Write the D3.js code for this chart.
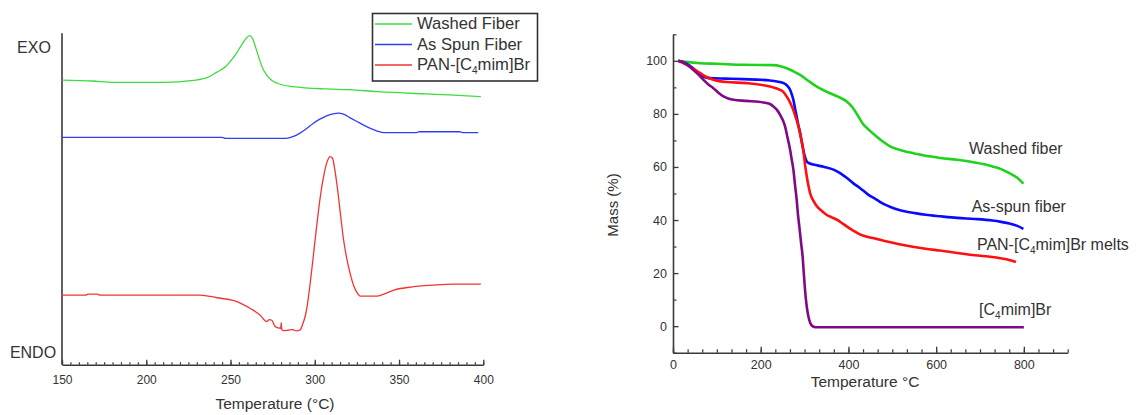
<!DOCTYPE html>
<html><head><meta charset="utf-8">
<script src="https://cdn.jsdelivr.net/npm/d3@7"></script>
<style>
html,body{margin:0;padding:0;background:#fff;}
svg{display:block;font-family:"Liberation Sans",Arial,sans-serif;}
</style></head>
<body><svg id="chart" width="1138" height="415"></svg>
<script>
// ---------- DSC (left) ----------
const dscXTicks = [150, 200, 250, 300, 350, 400];
const dscLegend = ["Washed Fiber", "As Spun Fiber", "PAN-[C4mim]Br"];
// [temperature °C, heat flow (arbitrary units, 0..100 = axis bottom..top)]
const dscWashed = [[150,85.9],[168,85.6],[180,85.2],[210,85.2],[228,85.8],[236,86.6],[242,88.3],[247,89.9],[250,91.6],[253,93.6],[256,96.0],[259,98.3],[261.3,99.3],[263,98.5],[265,95.6],[267.5,91.6],[269.5,89.0],[271.5,87.4],[274,86.0],[277.5,85.0],[287,83.9],[307,83.2],[320,83.0],[337,82.4],[366,81.7],[380,81.4],[398.5,80.9]];
const dscSpun = [[150,68.6],[200,68.6],[245,68.6],[247,68.3],[283,68.3],[287,68.8],[291,69.8],[295,71.2],[299,72.8],[303,74.1],[307,75.1],[311,75.7],[314,75.9],[317,75.6],[321,74.5],[325,73.4],[329,72.3],[333,71.3],[337,70.5],[341,70.0],[360,70.0],[362,70.3],[386,70.3],[388,70.0],[397,70.0]];
const dscPAN = [[150,21.0],[164,21.0],[165.5,21.3],[171,21.3],[172.5,21.0],[232,21.0],[242,20.2],[252,19.3],[257,18.3],[262,16.9],[267.5,15.0],[271.5,13.0],[273,13.6],[274.5,13.4],[276.5,11.5],[279.8,11.0],[280.1,12.7],[280.4,10.6],[281.5,10.3],[284,10.4],[287,10.6],[289,10.2],[291.3,10.5],[293,12.5],[294.5,15.0],[296,19.5],[297.5,25.5],[299.5,34.5],[301.5,43.5],[303.5,51.5],[305.5,57.5],[307.5,61.5],[309,62.8],[310.5,62.3],[312,58.5],[313.5,53.0],[315,46.5],[317,38.0],[319,32.0],[321,27.5],[323,24.0],[325,21.8],[327,20.7],[337,20.7],[342,21.5],[347,22.5],[358,23.5],[370,24.0],[382,24.3],[398.5,24.3]];

// ---------- TGA (right) ----------
const tgaXTicks = [0, 200, 400, 600, 800];
const tgaYTicks = [0, 20, 40, 60, 80, 100];
const tgaWashed = [[12,100],[30,99.6],[62,99.1],[100,98.9],[160,98.5],[229,98.4],[245,98.0],[259,97.2],[275,96.0],[290,94.7],[310,92.3],[328,90.3],[345,88.8],[366,87.2],[385,85.8],[396,84.7],[410,82.3],[420,79.8],[432,76.5],[448,73.8],[464,71.5],[480,69.4],[496,67.7],[512,66.7],[528,65.9],[550,65.1],[576,64.2],[610,63.4],[648,62.7],[688,61.7],[710,61.0],[728,60.2],[748,59.2],[767,57.7],[785,55.9],[799,53.7]];
const tgaSpun = [[12,100],[30,99.0],[46,97.2],[58,95.4],[69,94.1],[84,93.5],[120,93.3],[160,93.1],[221,92.6],[240,92.1],[252,91.6],[260,90.7],[267,89.1],[271,87.3],[274.5,85.3],[278,82.3],[282,79.0],[286,75.6],[290,72.8],[294,69.0],[297,66.5],[301,63.8],[305,62.1],[312,61.3],[320,60.9],[345,60.0],[366,59.0],[382,57.6],[396,55.9],[410,54.0],[426,52.1],[445,49.6],[464,47.7],[480,46.1],[496,44.9],[512,44.0],[528,43.3],[552,42.6],[576,42.0],[610,41.4],[648,40.8],[688,40.4],[728,39.8],[748,39.3],[767,38.7],[785,37.8],[799,36.7]];
const tgaPAN = [[12,100],[30,98.6],[46,97.0],[62,95.4],[75,94.0],[92,92.9],[122,92.0],[168,91.6],[221,90.3],[244,89.1],[252,88.2],[259,86.6],[267,84.3],[274,81.6],[280,78.6],[286,75.3],[292,70.8],[297,66.5],[301,61.0],[305,56.5],[309,52.8],[312.5,50.2],[320,47.3],[328,45.2],[340,43.3],[350,42.0],[362,41.0],[373,40.2],[385,38.9],[396,37.6],[410,36.1],[426,34.6],[445,33.6],[464,32.9],[480,32.2],[496,31.6],[528,30.5],[576,29.2],[608,28.5],[648,27.6],[688,26.7],[728,26.1],[760,25.2],[782,24.2]];
const tgaIL = [[12,100],[30,98.8],[46,96.6],[58,94.8],[69,92.9],[80,91.2],[92,89.7],[103,88.1],[115,86.6],[126,85.8],[138,85.3],[168,84.9],[206,84.3],[220,83.8],[229,82.8],[237,81.5],[244,79.7],[250,77.8],[255.5,75.3],[261,71.2],[267,66.5],[271,62.5],[274.5,59.0],[278,53.5],[282,47.7],[285,42.0],[288,37.6],[292,31.5],[295.5,26.3],[298,20.5],[301,13.8],[304.5,8.0],[308.5,3.8],[313,1.2],[318,0.0],[325,-0.4],[400,-0.4],[600,-0.4],[800,-0.4]];
// label anchor points [temperature, mass]
const tgaLabelPos = [[675,66.9],[681,45.2],[693,30.7],[698,6.3]];

const svg = d3.select("#chart");
const txt = "#333";
const axisCol = "#3a3a3a";

// ================= LEFT: DSC =================
const xL = d3.scaleLinear().domain([150, 400]).range([62, 483.3]);
const yL = d3.scaleLinear().domain([0, 100]).range([364.7, 33.3]);
const gL = svg.append("g");

gL.append("g").attr("transform", `translate(0,${yL(0)})`)
  .call(d3.axisBottom(xL).tickValues(d3.range(150, 401, 5)).tickSize(-2.5).tickFormat(""))
  .call(g => g.select(".domain").remove())
  .call(g => g.selectAll("line").attr("stroke", axisCol).attr("stroke-width", 1.2));
gL.append("g").attr("transform", `translate(0,${yL(0)})`)
  .call(d3.axisBottom(xL).tickValues(dscXTicks).tickSize(-5).tickSizeOuter(0).tickPadding(11))
  .call(g => g.select(".domain").attr("stroke", axisCol).attr("stroke-width", 1.6))
  .call(g => g.selectAll("line").attr("stroke", axisCol).attr("stroke-width", 1.3))
  .call(g => g.selectAll("text").attr("fill", txt).attr("font-size", 12).attr("font-family", '"Liberation Sans",Arial,sans-serif'));
gL.append("line").attr("x1", xL(150)).attr("x2", xL(150)).attr("y1", yL(0)).attr("y2", yL(100))
  .attr("stroke", axisCol).attr("stroke-width", 1.6);

gL.append("text").attr("x", 34).attr("y", 47).attr("dy", "0.36em").attr("text-anchor", "middle")
  .attr("font-size", 16).attr("fill", txt).text("EXO");
gL.append("text").attr("x", 33).attr("y", 352).attr("dy", "0.36em").attr("text-anchor", "middle")
  .attr("font-size", 16).attr("fill", txt).text("ENDO");
gL.append("text").attr("x", 275).attr("y", 403).attr("dy", "0.36em").attr("text-anchor", "middle")
  .attr("font-size", 15.5).attr("fill", txt).text("Temperature (°C)");

const lineL = d3.line().x(d => xL(d[0])).y(d => yL(d[1])).curve(d3.curveMonotoneX);
const dscSeries = [
  {data: dscWashed, color: "#3ddc3d"},
  {data: dscSpun, color: "#2f3ff0"},
  {data: dscPAN, color: "#f03434"}
];
dscSeries.forEach(s => gL.append("path").attr("d", lineL(s.data)).attr("fill", "none")
  .attr("stroke", s.color).attr("stroke-width", 1.3));

const leg = gL.append("g");
leg.append("rect").attr("x", 372.5).attr("y", 13.5).attr("width", 165).attr("height", 67.5)
  .attr("fill", "#fff").attr("stroke", "#333").attr("stroke-width", 1.6);
dscLegend.forEach((name, i) => {
  const yy = 24 + i * 20.5;
  leg.append("line").attr("x1", 375).attr("x2", 412).attr("y1", yy).attr("y2", yy)
    .attr("stroke", dscSeries[i].color).attr("stroke-width", 1.3);
  const t = leg.append("text").attr("x", 417).attr("y", yy - 0.5).attr("dy", "0.36em")
    .attr("font-size", 16.6).attr("fill", txt);
  const m = name.match(/^(.*C)4(.*)$/);
  if (m) {
    t.append("tspan").text(m[1]);
    t.append("tspan").attr("font-size", 10).attr("dy", 4).text("4");
    t.append("tspan").attr("dy", -4).text(m[2]);
  } else t.text(name);
});

// ================= RIGHT: TGA =================
const xR = d3.scaleLinear().domain([0, 900]).range([673, 1067.7]);
const yR = d3.scaleLinear().domain([-10, 110]).range([352.7, 34.3]);
const gR = svg.append("g");

gR.append("g").attr("transform", `translate(0,${yR(-10)})`)
  .call(d3.axisBottom(xR).tickValues(d3.range(0, 27).map(i => i * 900 / 27).concat([900])).tickSize(-3.5).tickFormat(""))
  .call(g => g.select(".domain").remove())
  .call(g => g.selectAll("line").attr("stroke", axisCol).attr("stroke-width", 1.2));
gR.append("g").attr("transform", `translate(0,${yR(-10)})`)
  .call(d3.axisBottom(xR).tickValues(tgaXTicks).tickSize(-6).tickSizeOuter(0).tickPadding(7))
  .call(g => g.select(".domain").attr("stroke", axisCol).attr("stroke-width", 1.6))
  .call(g => g.selectAll("line").attr("stroke", axisCol).attr("stroke-width", 1.3))
  .call(g => g.selectAll("text").attr("fill", txt).attr("font-size", 12.5).attr("font-family", '"Liberation Sans",Arial,sans-serif'));

gR.append("g").attr("transform", `translate(${xR(0)},0)`)
  .call(d3.axisLeft(yR).tickValues([-10, 10, 30, 50, 70, 90, 110]).tickSize(-3.5).tickFormat(""))
  .call(g => g.select(".domain").remove())
  .call(g => g.selectAll("line").attr("stroke", axisCol).attr("stroke-width", 1.2));
gR.append("g").attr("transform", `translate(${xR(0)},0)`)
  .call(d3.axisLeft(yR).tickValues(tgaYTicks).tickSize(-5.5).tickSizeOuter(0).tickPadding(6))
  .call(g => g.select(".domain").attr("stroke", axisCol).attr("stroke-width", 1.6))
  .call(g => g.selectAll("line").attr("stroke", axisCol).attr("stroke-width", 1.3))
  .call(g => g.selectAll("text").attr("fill", txt).attr("font-size", 12.5).attr("font-family", '"Liberation Sans",Arial,sans-serif'));

gR.append("text").attr("x", 865).attr("y", 381).attr("dy", "0.36em").attr("text-anchor", "middle")
  .attr("font-size", 15.5).attr("fill", txt).text("Temperature °C");
gR.append("text").attr("transform", "translate(613,205) rotate(-90)").attr("dy", "0.36em")
  .attr("text-anchor", "middle").attr("font-size", 15).attr("fill", txt).text("Mass (%)");

const lineR = d3.line().x(d => xR(d[0])).y(d => yR(d[1])).curve(d3.curveMonotoneX);
const tgaSeries = [
  {data: tgaWashed, color: "#1ed21e", label: "Washed fiber"},
  {data: tgaSpun, color: "#0a0aff", label: "As-spun fiber"},
  {data: tgaPAN, color: "#ff1010", label: "PAN-[C4mim]Br melts"},
  {data: tgaIL, color: "#800a86", label: "[C4mim]Br"}
];
tgaSeries.forEach((s, i) => {
  gR.append("path").attr("d", lineR(s.data)).attr("fill", "none")
    .attr("stroke", s.color).attr("stroke-width", 2.6).attr("stroke-linejoin", "round");
  const p = tgaLabelPos[i];
  const t = gR.append("text").attr("x", xR(p[0])).attr("y", yR(p[1])).attr("dy", "0.36em")
    .attr("font-size", 16).attr("fill", txt);
  const m = s.label.match(/^(.*C)4(.*)$/);
  if (m) {
    t.append("tspan").text(m[1]);
    t.append("tspan").attr("font-size", 10).attr("dy", 4).text("4");
    t.append("tspan").attr("dy", -4).text(m[2]);
  } else t.text(s.label);
});
</script></body></html>
